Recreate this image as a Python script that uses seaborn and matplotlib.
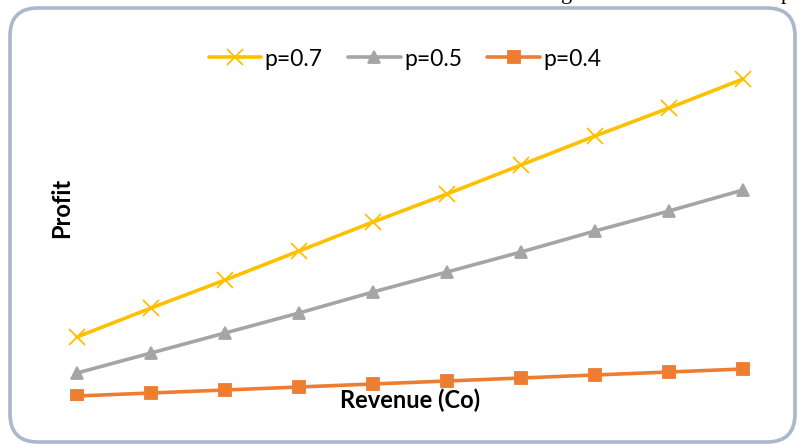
import matplotlib
matplotlib.use("Agg")
import matplotlib.pyplot as plt
from matplotlib.patches import FancyBboxPatch
from matplotlib.lines import Line2D
import seaborn as sns
import pandas as pd

# Revenue steps along the horizontal axis
revenue = [1, 2, 3, 4, 5, 6, 7, 8, 9, 10]
# Profit for each probability level
profit_p07 = [6.3, 9.2, 12.0, 14.9, 17.8, 20.6, 23.5, 26.4, 29.2, 32.1]
profit_p05 = [2.7, 4.7, 6.7, 8.7, 10.8, 12.8, 14.8, 16.9, 18.9, 21.0]
profit_p04 = [0.4, 0.7, 1.0, 1.3, 1.6, 1.9, 2.2, 2.5, 2.8, 3.1]
series_labels = ["p=0.7", "p=0.5", "p=0.4"]

sns.set_theme(style="white")
plt.rcParams["font.family"] = ["Lato", "DejaVu Sans"]

W, H = 798, 445
fig = plt.figure(figsize=(W / 100, H / 100), dpi=100)
fig.patch.set_facecolor("white")

# rounded frame around the chart (coordinates in inches)
frame = FancyBboxPatch((10 / 100, 3 / 100), 785 / 100, 434 / 100,
                       boxstyle="round,pad=0,rounding_size=0.28",
                       transform=fig.dpi_scale_trans, facecolor="none",
                       edgecolor="#A9B8CB", linewidth=2.6, zorder=-1)
fig.patches.append(frame)

ax = fig.add_axes([40 / W, 45 / H, 740 / W, 350 / H])
ax.set_facecolor("none")

palette = {"p=0.7": "#FFC000", "p=0.5": "#A5A5A5", "p=0.4": "#ED7D31"}
markers = {"p=0.7": "x", "p=0.5": "^", "p=0.4": "s"}
msizes = {"p=0.7": 11, "p=0.5": 9, "p=0.4": 9}

for lab, vals in zip(series_labels, [profit_p07, profit_p05, profit_p04]):
    d = pd.DataFrame({"Revenue": revenue, "Profit": vals})
    sns.lineplot(data=d, x="Revenue", y="Profit", color=palette[lab],
                 marker=markers[lab], markersize=msizes[lab],
                 markeredgecolor=palette[lab], markeredgewidth=1.3,
                 linewidth=2.6, ax=ax)

ax.set_xlim(0.5, 10.5)
ax.set_ylim(0, 35)
for s in ax.spines.values():
    s.set_visible(False)
ax.set_xticks([])
ax.set_yticks([])
ax.set_xlabel("")
ax.set_ylabel("")

# legend
handles = [Line2D([], [], color=palette[l], marker=markers[l], linewidth=2.6,
                  markersize=msizes[l], markeredgewidth=1.3,
                  markeredgecolor=palette[l]) for l in series_labels]
fig.legend(handles, series_labels, loc="center", bbox_to_anchor=(405 / W, 1 - 59 / H),
           ncol=3, frameon=False, fontsize=16.5, handlelength=2.3, handletextpad=0.15,
           columnspacing=1.1, labelcolor="black")

fig.text(62 / W, 1 - 208 / H, "Profit", rotation=90, ha="center", va="center",
         fontsize=17, fontweight="bold", color="black")
fig.text(410 / W, 1 - 400 / H, "Revenue (Co)", ha="center", va="center",
         fontsize=17, fontweight="bold", color="black")

# descenders of the caption line above the chart
fig.text(567 / W, 1 + 1 / H, "g", ha="center", va="baseline",
         family="Liberation Serif", fontsize=16, color="black")
fig.text(786 / W, 1 + 1 / H, "p", ha="center", va="baseline",
         family="Liberation Serif", fontsize=16, color="black")

fig.savefig("out.png", dpi=100, facecolor="white")
